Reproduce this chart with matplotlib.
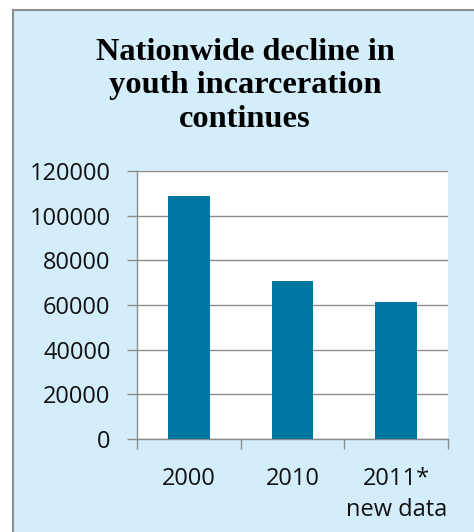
import numpy as np
import matplotlib
matplotlib.use('Agg')
import matplotlib.pyplot as plt
from matplotlib.patches import Rectangle
from matplotlib.lines import Line2D

# data
years = ['2000', '2010', '2011*\nnew data']
youth_count = [108800, 70800, 61200]
yticks = [0, 20000, 40000, 60000, 80000, 100000, 120000]

bg_blue = '#d3edfa'
bar_blue = '#0076a3'
grey = '#8c8c8c'

fig = plt.figure(figsize=(4.74, 5.32), dpi=100)
fig.patch.set_facecolor('white')

# light blue panel with grey border on top and left
fig.patches.append(Rectangle((13/474, 0), 1, 1 - 10/532, transform=fig.transFigure,
                             facecolor=bg_blue, edgecolor='none', zorder=-10))
fig.lines.append(Line2D([13/474, 13/474], [0, 1 - 10/532], transform=fig.transFigure,
                        color=grey, lw=1.5, zorder=-5))
fig.lines.append(Line2D([13/474, 1], [1 - 10/532, 1 - 10/532], transform=fig.transFigure,
                        color=grey, lw=1.5, zorder=-5))

fig.text(0.517, 1 - 86/532, 'Nationwide decline in\nyouth incarceration\ncontinues',
         ha='center', va='center', family='Liberation Serif', weight='bold',
         fontsize=23.3, linespacing=1.2)

ax = fig.add_axes([137/474, 1 - 439/532, 311/474, 268/532])
ax.set_zorder(2)
ax.set_facecolor('white')
x = np.arange(len(years))
ax.bar(x, youth_count, width=0.405, color=bar_blue, zorder=3)

ax.set_ylim(0, 120000)
ax.set_xlim(-0.5, 2.5)
ax.set_yticks(yticks)
ax.set_yticklabels([str(v) for v in yticks])
ax.yaxis.grid(True, color=grey, lw=1, zorder=0)
ax.set_axisbelow(True)

ax.set_xticks([-0.5, 0.5, 1.5, 2.5])
ax.set_xticklabels([])
ax.set_xticks(x, minor=True)
ax.set_xticklabels(years, minor=True)
ax.tick_params(axis='x', which='major', length=7, width=1, color=grey, direction='out')
ax.tick_params(axis='x', which='minor', length=0, pad=20)
ax.tick_params(axis='y', length=7, width=1, color=grey, pad=12)

for s in ['top', 'right']:
    ax.spines[s].set_visible(False)
for s in ['left', 'bottom']:
    ax.spines[s].set_color(grey)
    ax.spines[s].set_linewidth(1)

for lab in ax.get_yticklabels() + ax.get_xticklabels(minor=True):
    lab.set_fontfamily('Open Sans')
    lab.set_fontsize(17)
    lab.set_color('#111111')
for lab in ax.get_xticklabels(minor=True):
    lab.set_linespacing(1.4)

fig.savefig('out.png', dpi=100, facecolor=fig.get_facecolor())
